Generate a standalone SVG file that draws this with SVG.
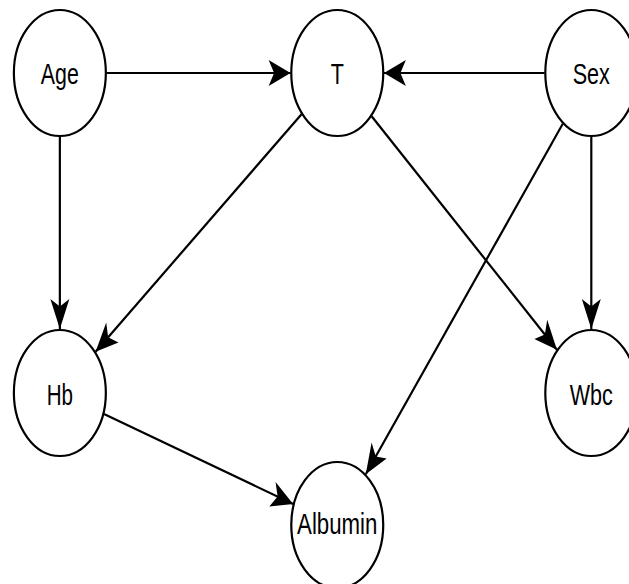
<svg xmlns="http://www.w3.org/2000/svg" width="629" height="584" viewBox="0 0 629 584">
  <defs>
    <!-- filled arrowhead with a notched back; tip sits on the line end -->
    <marker id="arrow" markerUnits="userSpaceOnUse" orient="auto" overflow="visible" markerWidth="32" markerHeight="28">
      <path d="M0,0 L-30,-13 L-22.5,0 L-30,13 Z" fill="#000"/>
    </marker>
    <style>
      .node ellipse { fill: #fff; stroke: #000; stroke-width: 2.2; vector-effect: non-scaling-stroke; }
      .node text { font-family: "Liberation Sans", Arial, Helvetica, sans-serif; font-size: 29.5px; text-anchor: middle; fill: #000; }
      .edges line { stroke: #000; stroke-width: 2.2; vector-effect: non-scaling-stroke; marker-end: url(#arrow); }
    </style>
  </defs>
  <rect width="629" height="584" fill="#fff"/>

  <!-- whole drawing is laid out on round circles, then squeezed horizontally -->
  <g transform="scale(0.73,1)">
    <g id="connectors" class="edges">
      <line id="age-t" x1="146" y1="73" x2="398" y2="73"/>
      <line id="sex-t" x1="746" y1="73" x2="526" y2="73"/>
      <line id="age-hb" x1="82" y1="137" x2="82" y2="329"/>
      <line id="sex-wbc" x1="810" y1="137" x2="810" y2="329"/>
      <line id="t-hb" x1="413.05" y1="114.2" x2="130.95" y2="351.8"/>
      <line id="t-wbc" x1="509.1" y1="116.3" x2="762.9" y2="349.7"/>
      <line id="sex-albumin" x1="770.95" y1="123.7" x2="501.05" y2="474.3"/>
      <line id="hb-albumin" x1="142.45" y1="414" x2="401.55" y2="504"/>
    </g>

    <g id="node-age" class="node">
      <ellipse cx="82" cy="73" rx="63" ry="63"/>
      <text x="82" y="84.5" textLength="52" lengthAdjust="spacingAndGlyphs">Age</text>
    </g>
    <g id="node-t" class="node">
      <ellipse cx="462" cy="73" rx="63" ry="63"/>
      <text x="462" y="84.5" textLength="18" lengthAdjust="spacingAndGlyphs">T</text>
    </g>
    <g id="node-sex" class="node">
      <ellipse cx="810" cy="73" rx="63" ry="63"/>
      <text x="810" y="84.5" textLength="51" lengthAdjust="spacingAndGlyphs">Sex</text>
    </g>
    <g id="node-hb" class="node">
      <ellipse cx="82" cy="393" rx="63" ry="63"/>
      <text x="82" y="405.5" textLength="36" lengthAdjust="spacingAndGlyphs">Hb</text>
    </g>
    <g id="node-wbc" class="node">
      <ellipse cx="810" cy="393" rx="63" ry="63"/>
      <text x="810" y="405.5" textLength="59" lengthAdjust="spacingAndGlyphs">Wbc</text>
    </g>
    <g id="node-albumin" class="node">
      <ellipse cx="462" cy="525" rx="63" ry="63"/>
      <text x="462" y="534.5" textLength="110" lengthAdjust="spacingAndGlyphs">Albumin</text>
    </g>
  </g>
</svg>
